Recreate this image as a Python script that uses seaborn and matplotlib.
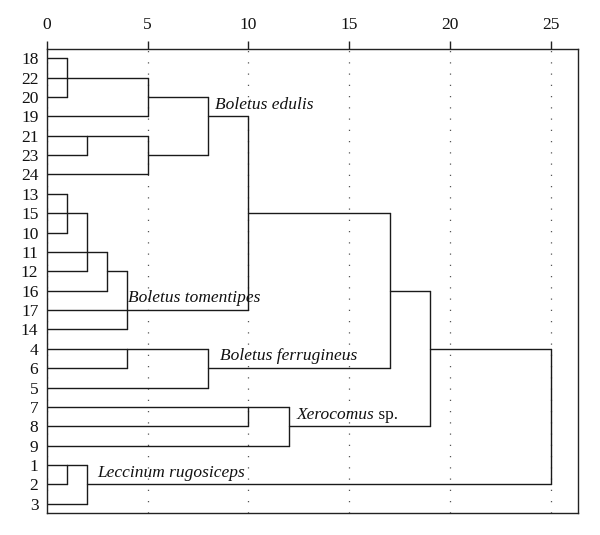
import math
import pandas as pd
import matplotlib
matplotlib.use("Agg")
import matplotlib.pyplot as plt
import seaborn as sns

# leaf order, top to bottom
leaves = [18, 22, 20, 19, 21, 23, 24, 13, 15, 10, 11, 12, 16, 17, 14,
          4, 6, 5, 7, 8, 9, 1, 2, 3]

# merges (rescaled distance, members); members are leaves or earlier merges
merge_names = ["A", "B", "C", "D", "E", "F", "G", "H", "I", "J",
               "K", "L", "M", "N", "O", "P", "Q", "R", "S"]
merge_dist = [1, 2, 5, 5, 8, 1, 2, 3, 4, 10, 4, 8, 17, 10, 12, 19, 1, 2, 25]
merge_members = [[18, 22, 20], [21, 23], ["A", 19], ["B", 24], ["C", "D"],
                 [13, 15, 10], ["F", 11, 12], ["G", 16], ["H", 17, 14],
                 ["E", "I"], [4, 6], ["K", 5], ["J", "L"], [7, 8], ["N", 9],
                 ["M", "O"], [1, 2], ["Q", 3], ["P", "R"]]

# clade labels (italic part, upright suffix) attached to a merge
clade_text = ["Boletus edulis", "Boletus tomentipes", "Boletus ferrugineus",
              "Xerocomus", "Leccinum rugosiceps"]
clade_suffix = ["", "", "", " sp.", ""]
clade_node = ["E", "I", "L", "O", "R"]
clade_dx = [0.33, 0.03, 0.58, 0.39, 0.5]

# positions of leaves and merges (SPSS style rows)
row = {leaf: i for i, leaf in enumerate(leaves)}
height = {leaf: 0 for leaf in leaves}
segs = []
for name, d, members in zip(merge_names, merge_dist, merge_members):
    rows = [row[m] for m in members]
    row[name] = math.ceil(sum(rows) / len(rows) - 0.5)
    height[name] = d
    segs.append([(d, min(rows)), (d, max(rows))])
    for m in members:
        segs.append([(height[m], row[m]), (d, row[m])])

seg_df = pd.DataFrame([(i, x, y) for i, s in enumerate(segs) for x, y in s],
                      columns=["seg", "dist", "row"])

sns.set_theme(style="white")
plt.rcParams["font.family"] = ["Liberation Serif", "DejaVu Serif"]

fig = plt.figure(figsize=(6, 5.35), dpi=100)
ax = fig.add_axes([0.0778, 0.0417, 0.885, 0.8661])

sns.lineplot(data=seg_df, x="dist", y="row", units="seg", estimator=None,
             sort=False, color="#1a1a1a", linewidth=1.0, ax=ax)

ax.set_xlim(0, 26.32)
ax.set_ylim(23.46, -0.46)
ax.set_xticks([0, 5, 10, 15, 20, 25])
ax.xaxis.tick_top()
ax.tick_params(axis="x", top=True, bottom=False, length=5.5, width=1,
               color="#222222", pad=6, labelsize=12.5, labelcolor="#111111")
ax.set_yticks(range(len(leaves)))
ax.set_yticklabels([str(v) for v in leaves])
ax.tick_params(axis="y", left=False, length=0, pad=6, labelsize=12.5,
               labelcolor="#111111")
ax.set_xlabel("")
ax.set_ylabel("")
ax.grid(axis="x", linestyle=(0, (1, 8)), color="#555555", linewidth=0.9)
ax.grid(axis="y", visible=False)
for sp in ax.spines.values():
    sp.set_color("#222222")
    sp.set_linewidth(1.0)

for txt, suf, node, dx in zip(clade_text, clade_suffix, clade_node, clade_dx):
    t = ax.text(height[node] + dx, row[node] - 0.4, txt, style="italic",
                fontsize=12.5, va="baseline", ha="left", color="#111111")
    if suf:
        ax.annotate(suf, xy=(1, 0), xycoords=t, va="bottom", ha="left",
                    fontsize=12.5, color="#111111")

fig.savefig("out.png", dpi=100)
